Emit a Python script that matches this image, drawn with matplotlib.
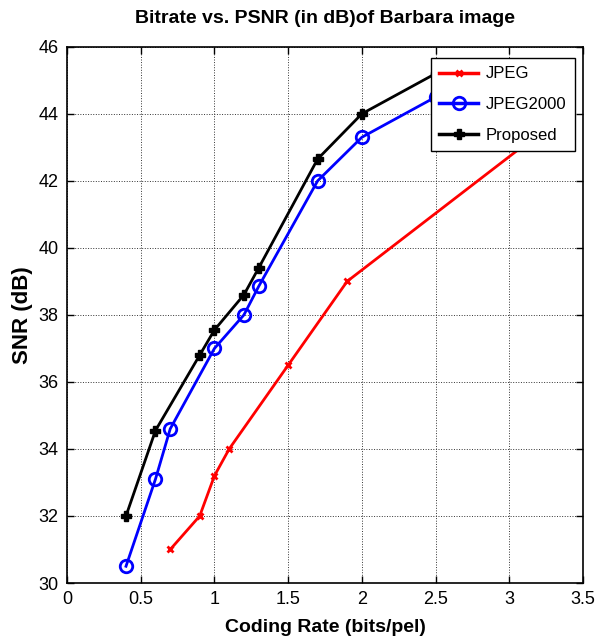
import matplotlib
matplotlib.use('Agg')
import matplotlib.pyplot as plt

# Dados
taxa_jpeg = [0.7, 0.9, 1.0, 1.1, 1.5, 1.9, 3.2]
snr_jpeg = [31.0, 32.0, 33.2, 34.0, 36.5, 39.0, 43.4]

taxa_j2k = [0.4, 0.6, 0.7, 1.0, 1.2, 1.3, 1.7, 2.0, 2.5, 3.0]
snr_j2k = [30.5, 33.1, 34.6, 37.0, 38.0, 38.85, 42.0, 43.3, 44.5, 44.9]

taxa_prop = [0.4, 0.6, 0.9, 1.0, 1.2, 1.3, 1.7, 2.0, 2.5, 3.0]
snr_prop = [32.0, 34.55, 36.8, 37.55, 38.6, 39.4, 42.65, 44.0, 45.2, 45.35]

xticks = [0, 0.5, 1, 1.5, 2, 2.5, 3, 3.5]
yticks = [30, 32, 34, 36, 38, 40, 42, 44, 46]

fonte = ['Liberation Sans', 'DejaVu Sans']
plt.rcParams['font.family'] = fonte

fig = plt.figure(figsize=(6.06, 6.43), dpi=100)
ax = fig.add_axes([0.1106, 0.0933, 0.8515, 0.834])

ax.plot(taxa_jpeg, snr_jpeg, '-x', color='red', linewidth=2, markersize=5,
        markeredgewidth=2, label='JPEG')
ax.plot(taxa_j2k, snr_j2k, '-o', color='blue', linewidth=2, markersize=9,
        markeredgewidth=2, markerfacecolor='none', label='JPEG2000')
ax.plot(taxa_prop, snr_prop, '-P', color='black', linewidth=2, markersize=7,
        markeredgewidth=1, label='Proposed')

ax.set_xlim(0, 3.5)
ax.set_ylim(30, 46)
ax.set_xticks(xticks)
ax.set_xticklabels(['0', '0.5', '1', '1.5', '2', '2.5', '3', '3.5'])
ax.set_yticks(yticks)

# Estilo tipo MATLAB
ax.grid(True, linestyle=':', color='#333333', linewidth=0.7)
ax.tick_params(direction='in', top=True, right=True, length=5, width=1,
               labelsize=13, pad=6)
for s in ax.spines.values():
    s.set_linewidth(1.2)

ax.set_title('Bitrate vs. PSNR (in dB)of Barbara image', fontsize=14,
             fontweight='bold', pad=17)
ax.set_xlabel('Coding Rate (bits/pel)', fontsize=14, fontweight='bold', labelpad=8)
ax.set_ylabel('SNR (dB)', fontsize=16, fontweight='bold', labelpad=4)

leg = ax.legend(loc='upper right', bbox_to_anchor=(0.9845, 0.979), fontsize=12,
                fancybox=False, framealpha=1, edgecolor='black', borderaxespad=0,
                handlelength=2.3, handletextpad=0.5, labelspacing=0.95,
                borderpad=0.5)
leg.get_frame().set_linewidth(1)
for h in leg.get_lines():
    h.set_linewidth(2.5)

plt.savefig('out.png', dpi=100)
